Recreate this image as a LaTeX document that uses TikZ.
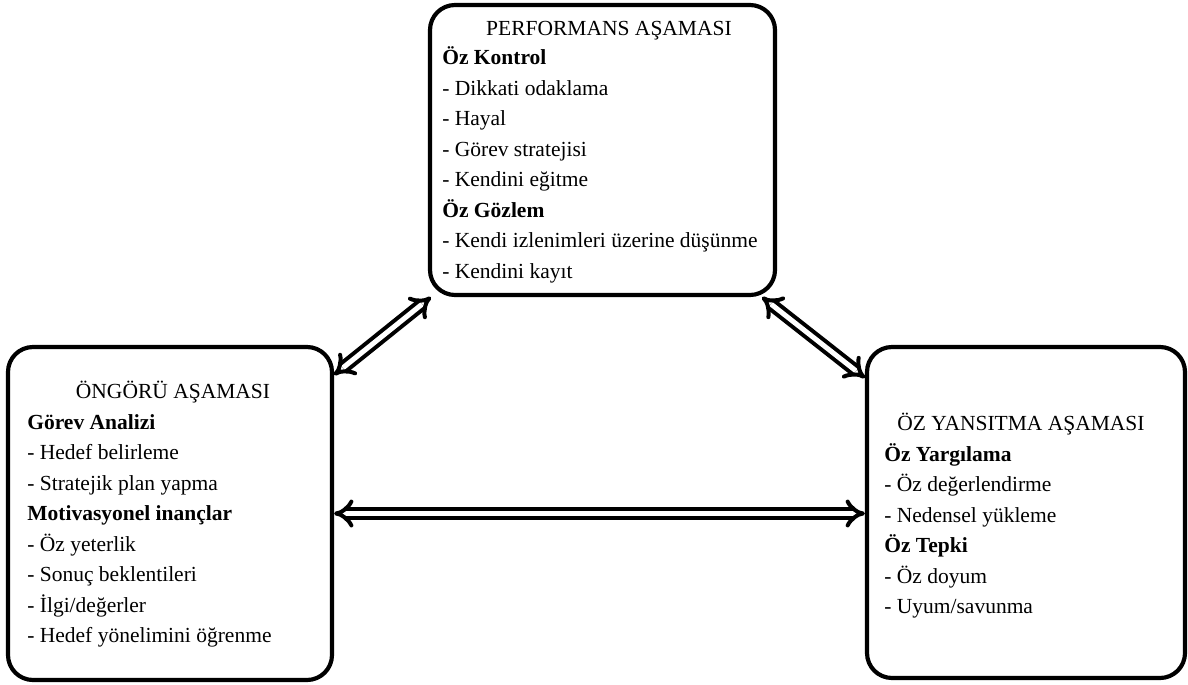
\documentclass[tikz,border=0pt]{standalone}
\usepackage{fontspec}
\setmainfont{Liberation Serif}
\usetikzlibrary{arrows.meta, positioning}

\begin{document}
\begin{tikzpicture}[x=0.6pt,y=-0.6pt,font=\fontsize{12.9}{18.3}\selectfont]
  \tikzstyle{phase}=[draw,line width=2.5pt,rounded corners=15pt,inner sep=0pt]
  \tikzstyle{title}=[inner sep=0pt,anchor=base]
  \tikzstyle{items}=[inner sep=0pt,anchor=base west]
  \tikzstyle{link}=[draw,line width=2.4pt,double distance=3pt,{Implies}-{Implies}]

  \useasboundingbox (0,0) rectangle (1188,684);

  \node[phase,minimum width=207pt,minimum height=174pt]     (perf)   at (602.5,150) {};
  \node[phase,minimum width=194.4pt,minimum height=199.8pt] (ongoru) at (170,513.5) {};
  \node[phase,minimum width=190.8pt,minimum height=198.6pt] (yansit) at (1026,512.5) {};

  \node[title] (perf_t) at (609,36) {PERFORMANS AŞAMASI};
  \node[items] (perf_i) at (442,65) {\begin{tabular}[t]{@{}l@{}}
    \textbf{Öz Kontrol}\\
    - Dikkati odaklama\\
    - Hayal\\
    - Görev stratejisi\\
    - Kendini eğitme\\
    \textbf{Öz Gözlem}\\
    - Kendi izlenimleri üzerine düşünme\\
    - Kendini kayıt
  \end{tabular}};

  \node[title] (ongoru_t) at (173,398) {ÖNGÖRÜ AŞAMASI};
  \node[items] (ongoru_i) at (27,429) {\begin{tabular}[t]{@{}l@{}}
    \textbf{Görev Analizi}\\
    - Hedef belirleme\\
    - Stratejik plan yapma\\
    \textbf{Motivasyonel inançlar}\\
    - Öz yeterlik\\
    - Sonuç beklentileri\\
    - İlgi/değerler\\
    - Hedef yönelimini öğrenme
  \end{tabular}};

  \node[title] (yansit_t) at (1021,430) {ÖZ YANSITMA AŞAMASI};
  \node[items] (yansit_i) at (884,461) {\begin{tabular}[t]{@{}l@{}}
    \textbf{Öz Yargılama}\\
    - Öz değerlendirme\\
    - Nedensel yükleme\\
    \textbf{Öz Tepki}\\
    - Öz doyum\\
    - Uyum/savunma
  \end{tabular}};

  \path
  ([yshift=-18pt]ongoru.north east) edge[link] ([xshift=1.8pt]perf.south west)
  ([xshift=-9pt]perf.south east)    edge[link] ([yshift=-19.8pt]yansit.north west)
  (ongoru.east)                     edge[link] (ongoru.east -| yansit.west)
  ;
\end{tikzpicture}
\end{document}
